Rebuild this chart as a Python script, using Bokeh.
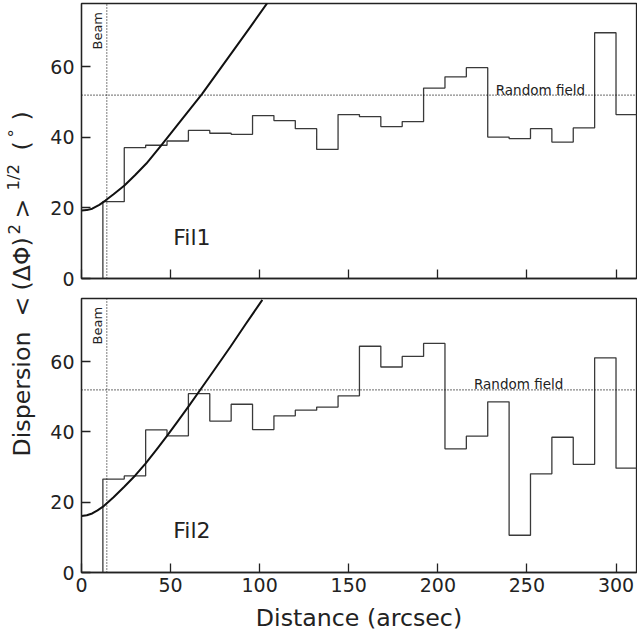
import math
from bokeh.plotting import figure
from bokeh.models import Range1d, FixedTicker
from bokeh.layouts import row, column
from bokeh.embed import file_html
from bokeh.resources import INLINE
from bokeh.core.properties import value

# ---------------- data ----------------
bin_edges = [12, 24, 36, 48, 60, 72, 84, 96, 108, 120, 132, 144, 156,
             168, 180, 192, 204, 216, 228, 240, 252, 264, 276, 288, 300, 312]
fil1_dispersion = [21.8, 37.1, 37.8, 39.0, 42.0, 41.2, 40.9, 46.2, 44.8, 42.5,
                   36.6, 46.5, 45.9, 43.1, 44.5, 54.0, 57.2, 59.8, 40.1, 39.7,
                   42.5, 38.7, 42.7, 69.7, 46.5]
fil2_dispersion = [26.6, 27.5, 40.6, 38.9, 50.9, 43.1, 47.9, 40.7, 44.6, 46.2,
                   47.1, 50.3, 64.4, 58.5, 61.5, 65.2, 35.2, 38.8, 48.6, 10.6,
                   28.1, 38.5, 30.8, 61.1, 29.7]

fil1_curve_x = [0, 3, 6, 10, 13.4, 18, 24.1, 30, 36.4, 44.3, 48, 56, 67.6, 76, 85.3, 95, 104.5]
fil1_curve_y = [19.3, 19.4, 19.8, 20.9, 22.1, 23.9, 26.4, 29.3, 32.6, 37.5, 39.8, 44.9, 52.3, 58.2, 64.7, 71.5, 78.3]
fil2_curve_x = [0, 3, 6, 9, 12.5, 18, 24.0, 30.3, 35.9, 42, 48, 54, 60.1, 65.7, 74, 83.5, 92, 101.5]
fil2_curve_y = [16.1, 16.3, 16.8, 17.7, 18.9, 21.4, 24.4, 27.7, 31.0, 34.9, 38.9, 43.0, 47.3, 51.3, 57.3, 64.2, 70.6, 77.6]

beam = 14.2
random_field = 52
x_ticks = [0, 50, 100, 150, 200, 250, 300]
y_ticks = [0, 20, 40, 60]

FONT = "DejaVu Sans"
DARK = "#222222"


def step_path(edges, vals):
    xs, ys = [edges[0]], [0]
    for i, v in enumerate(vals):
        xs += [edges[i], edges[i + 1]]
        ys += [v, v]
    xs.append(edges[-1])
    ys.append(0)
    return xs, ys


def panel(vals, cx, cy, name, rf_x, name_y, bottom, top_border, bottom_border, fh):
    p = figure(frame_width=555, frame_height=fh,
               x_range=Range1d(0, 311.5), y_range=Range1d(0, 78),
               output_backend="svg", toolbar_location=None,
               min_border_left=43, min_border_right=1,
               min_border_top=top_border, min_border_bottom=bottom_border)
    p.xgrid.visible = False
    p.ygrid.visible = False
    p.outline_line_color = DARK
    p.outline_line_width = 1.3
    p.background_fill_color = "white"
    p.border_fill_color = "white"
    for ax in (p.xaxis[0], p.yaxis[0]):
        ax.axis_line_color = DARK
        ax.axis_line_width = 1.3
        ax.major_tick_line_color = DARK
        ax.major_tick_line_width = 1.3
        ax.major_tick_in = 9
        ax.major_tick_out = 0
        ax.minor_tick_line_color = None
        ax.major_label_text_font = FONT
        ax.major_label_text_font_size = "19px"
        ax.major_label_text_color = DARK
    p.xaxis.ticker = FixedTicker(ticks=x_ticks)
    p.yaxis.ticker = FixedTicker(ticks=y_ticks)
    p.yaxis.major_label_standoff = 7
    p.xaxis.major_label_standoff = 5
    if bottom:
        p.xaxis.axis_label = "Distance (arcsec)"
        p.xaxis.axis_label_text_font = FONT
        p.xaxis.axis_label_text_font_size = "23.7px"
        p.xaxis.axis_label_text_font_style = "normal"
        p.xaxis.axis_label_text_color = DARK
        p.xaxis.axis_label_standoff = 9
    else:
        p.xaxis.major_label_overrides = {t: "" for t in x_ticks}
        p.xaxis.major_label_standoff = 0

    xs, ys = step_path(bin_edges, vals)
    p.line(xs, ys, line_color="#3a3a3a", line_width=1.3)
    p.line(cx, cy, line_color="#111111", line_width=2.0, line_join="round")
    p.line([beam, beam], [0, 78], line_color="#111111", line_width=1.1,
           line_dash="1 2")
    p.line([0, 311.5], [random_field, random_field], line_color="#111111",
           line_width=1.1, line_dash="1 2")
    p.text(x=[9.2], y=[75.6], text=["Beam"], angle=math.pi / 2,
           text_align="right", text_baseline="middle",
           text_font=value(FONT), text_font_size="13px", text_color=DARK)
    p.text(x=[rf_x], y=[random_field + 1.6], text=["Random field"],
           text_align="left", text_baseline="alphabetic",
           text_font=value(FONT), text_font_size="13.5px", text_color=DARK)
    p.text(x=[51.5], y=[name_y], text=[name], text_align="left",
           text_baseline="middle", text_font=value(FONT),
           text_font_size="22px", text_color=DARK)
    return p


top = panel(fil1_dispersion, fil1_curve_x, fil1_curve_y, "Fil1", 232.5, 11.6,
            False, 3, 10, 275)
bot = panel(fil2_dispersion, fil2_curve_x, fil2_curve_y, "Fil2", 220.3, 12.0,
            True, 10, 62, 274)

# ---------------- y label (shared) ----------------
LAB_H = 634
lab = figure(width=38, height=LAB_H, x_range=Range1d(0, 38),
             y_range=Range1d(LAB_H, 0), x_axis_type=None, y_axis_type=None,
             output_backend="svg", toolbar_location=None,
             min_border=0, outline_line_color=None)
lab.xgrid.visible = False
lab.ygrid.visible = False
pieces = [
    # text, start y (page), x centre (page), size
    ("Dispersion", 456, 21, "23.7px"),
    ("<", 316, 21, "23.7px"),
    ("(\u0394\u03a6)", 290, 21, "23.7px"),
    ("2", 234, 13, "16.5px"),
    (">", 218, 21, "23.7px"),
    ("1/2", 190, 13, "16.5px"),
    ("(", 150, 21, "23.7px"),
    ("\u00b0", 137, 14, "16.5px"),
    (")", 120, 21, "23.7px"),
]
for t, yy, xx, fs in pieces:
    lab.text(x=[xx], y=[yy], text=[t], angle=math.pi / 2,
             text_align="left", text_baseline="middle",
             text_font=value(FONT), text_font_size=fs, text_color=DARK)

layout = row(lab, column(top, bot))
open("out.html", "w").write(file_html(layout, INLINE))
